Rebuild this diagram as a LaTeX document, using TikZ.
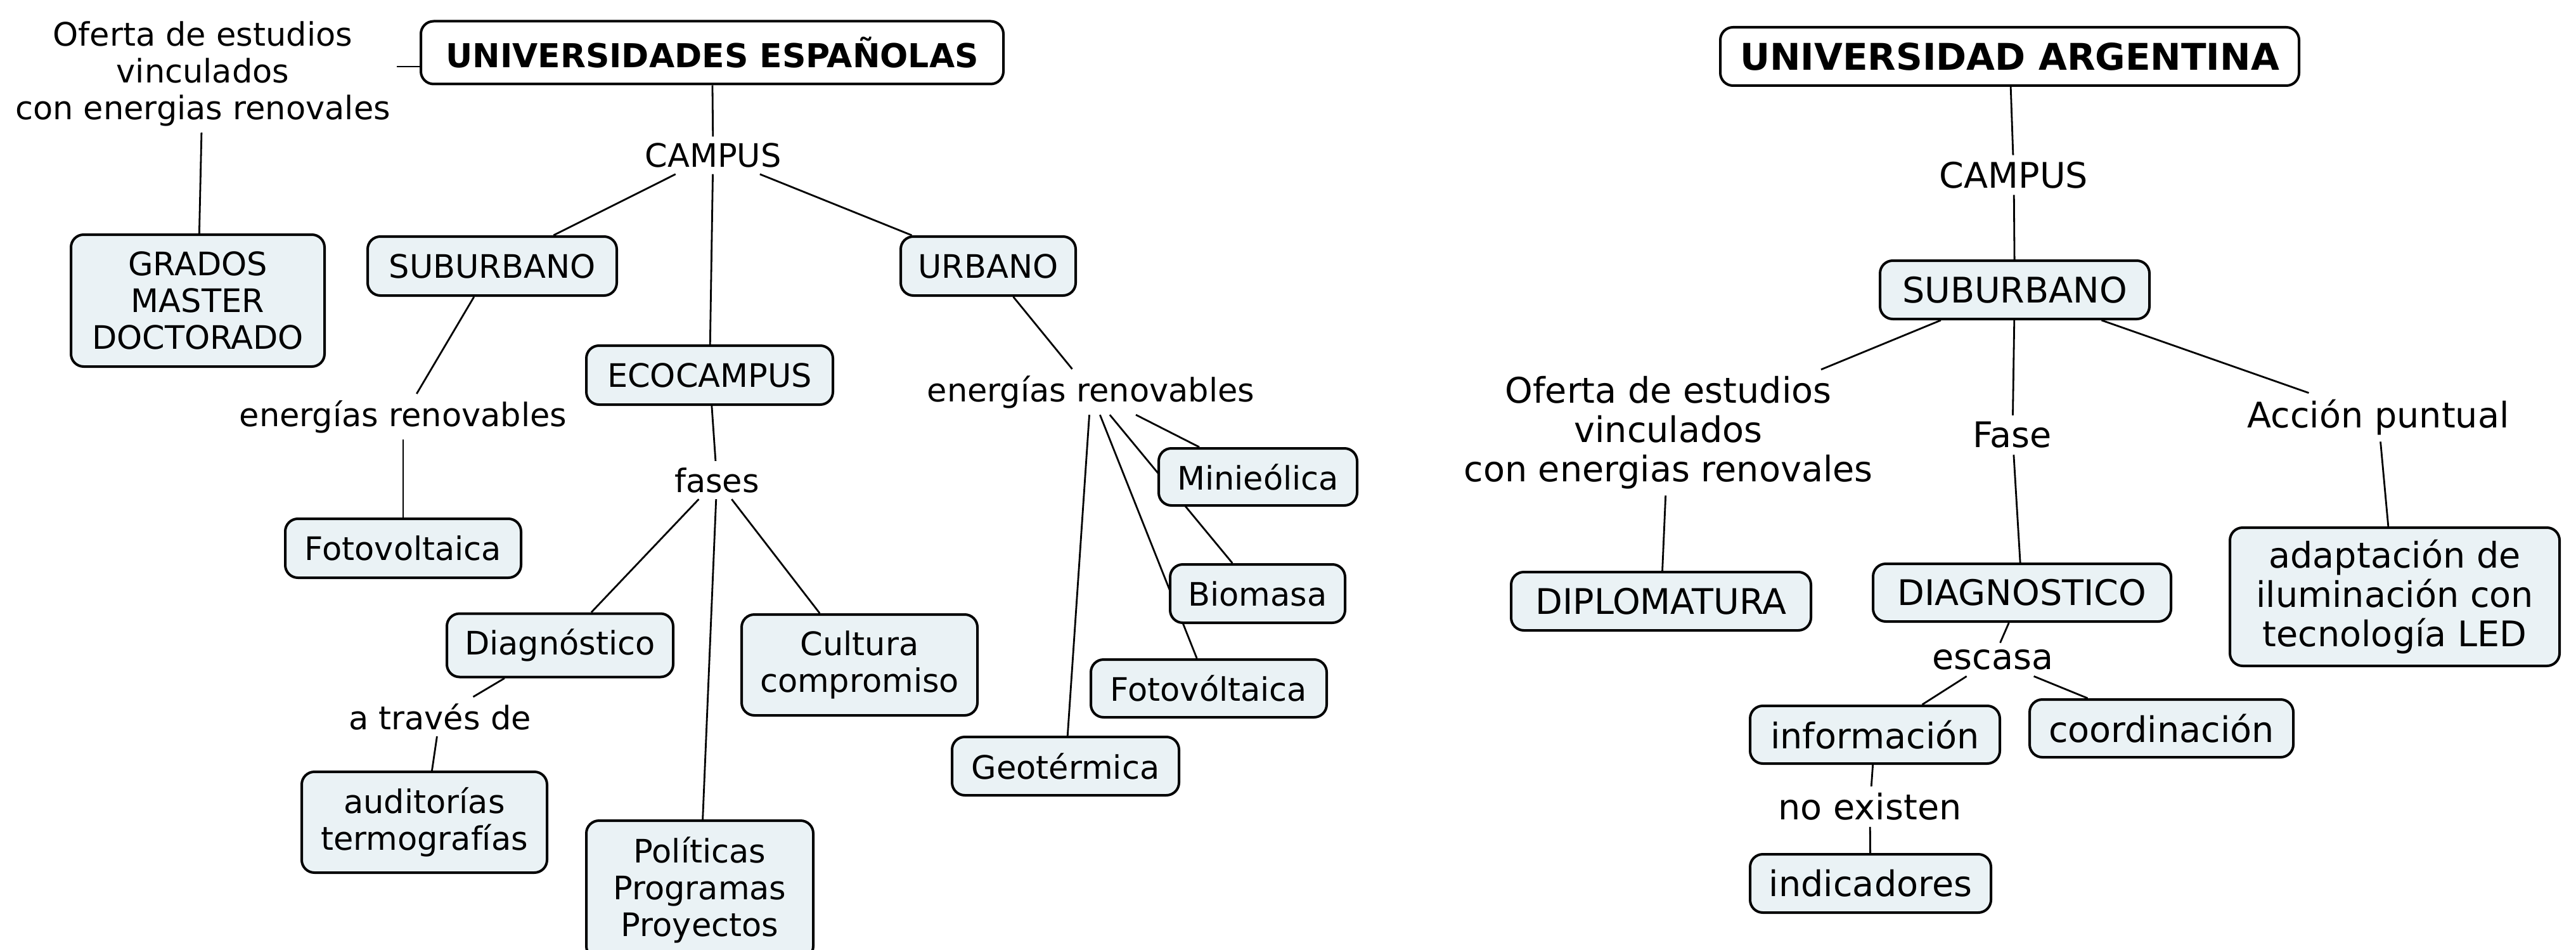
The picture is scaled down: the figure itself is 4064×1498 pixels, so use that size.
\documentclass[tikz,border=0pt]{standalone}
\usepackage{fontspec}
\setmainfont{DejaVu Sans}
\usetikzlibrary{backgrounds}
\definecolor{boxfill}{RGB}{234,242,245}
\begin{document}
\begin{tikzpicture}[x=0.5pt,y=-0.5pt,
  every node/.style={font=\fontsize{25.5}{29}\selectfont, align=center},
  sz/.style 2 args={minimum width=#1*0.5pt, minimum height=#2*0.5pt},
  box/.style={draw=black, line width=2pt, rounded corners=10pt, fill=boxfill, inner sep=0pt},
  titlebox/.style={box, fill=white, font=\fontsize{26}{30}\selectfont\bfseries},
  lbl/.style={inner sep=5pt},
  link/.style={line width=1.4pt, draw=black}]
\useasboundingbox (0,0) rectangle (4064,1498);

% ---------- left map ----------
\node[titlebox, sz={919}{99}] (UE) at (1123.5,83) {UNIVERSIDADES ESPAÑOLAS};
\node[lbl] (of1) at (320,116) {Oferta de estudios\\vinculados\\con energias renovales};
\node[box, sz={400}{208}] (GR) at (312,474) {GRADOS\\MASTER\\DOCTORADO};
\node[lbl] (C1) at (1125,245) {CAMPUS};
\node[box, sz={393}{93}] (SUB1) at (776.5,419.5) {SUBURBANO};
\node[box, sz={276}{93}] (URB1) at (1559,419.5) {URBANO};
\node[box, sz={389}{93}] (ECO) at (1119.5,591.5) {ECOCAMPUS};
\node[lbl] (er1) at (636,657) {energías renovables};
\node[box, sz={372}{93}] (F1) at (636,864.5) {Fotovoltaica};
\node[lbl] (fases) at (1131,757) {fases};
\node[box, sz={357}{100}] (Diag) at (883.5,1017.5) {Diagnóstico};
\node[lbl] (atr) at (694,1130) {a través de};
\node[box, sz={387}{159}] (aud) at (669.5,1296.5) {auditorías\\termografías};
\node[box, sz={358}{218}] (Pol) at (1104,1403) {Políticas\\Programas\\Proyectos};
\node[box, sz={372}{159}] (Cul) at (1356,1048.5) {Cultura\\compromiso};
\node[lbl] (er2) at (1721,618) {energías renovables};
\node[box, sz={313}{90}] (Mini) at (1984.5,752) {Minieólica};
\node[box, sz={276}{92}] (Bio) at (1984,936) {Biomasa};
\node[box, sz={372}{91}] (FV) at (1907,1085.5) {Fotovóltaica};
\node[box, sz={358}{92}] (Geo) at (1681,1208) {Geotérmica};

% ---------- right map (slightly larger type) ----------
\begin{scope}[every node/.append style={font=\fontsize{27.8}{31}\selectfont}]
\node[titlebox, sz={913}{92}, font=\fontsize{29}{33}\selectfont\bfseries] (UA) at (3170.5,89) {UNIVERSIDAD ARGENTINA};
\node[lbl] (C2) at (3177,276) {CAMPUS};
\node[box, sz={425}{92}] (SUB2) at (3178.5,457) {SUBURBANO};
\node[lbl] (of2) at (2632,682) {Oferta de estudios\\vinculados\\con energias renovales};
\node[lbl] (Fase) at (3175,686) {Fase};
\node[lbl] (Acc) at (3752,658) {Acción puntual};
\node[box, sz={473}{92}] (DIPL) at (2620.5,948) {DIPLOMATURA};
\node[box, sz={470}{91}] (DIAG) at (3190,934.5) {DIAGNOSTICO};
\node[box, sz={520}{218}] (adapt) at (3778,941) {adaptación de\\iluminación con\\tecnología LED};
\node[lbl] (esc) at (3144,1040) {escasa};
\node[box, sz={394}{91}] (info) at (2958,1158.5) {información};
\node[box, sz={416}{91}] (coord) at (3410,1148.5) {coordinación};
\node[lbl] (noex) at (2950,1272) {no existen};
\node[box, sz={380}{92}] (ind) at (2951,1393) {indicadores};
\end{scope}

\begin{scope}[on background layer]
  \fill[white] (0,0) rectangle (4064,1498);
  \draw[link] ([yshift=-11pt]UE.west) -- ([yshift=-11pt]UE.west -| of1.east);
  \draw[link] (of1) -- (GR);
  \draw[link] (UE) -- (C1);
  \draw[link] (C1) -- (SUB1);
  \draw[link] (C1) -- (ECO);
  \draw[link] (C1) -- (URB1);
  \draw[link] (SUB1) -- (er1);
  \draw[link] (er1) -- (F1);
  \draw[link] (ECO) -- (fases);
  \draw[link] (fases) -- (Diag);
  \draw[link] (fases) -- (Pol);
  \draw[link] (fases) -- (Cul);
  \draw[link] (Diag) -- (atr);
  \draw[link] (atr) -- (aud);
  \draw[link] (URB1) -- (er2);
  \draw[link] (er2) -- (Mini);
  \draw[link] (er2) -- (Bio);
  \draw[link] (er2) -- (FV);
  \draw[link] (er2) -- (Geo);
  \draw[link] (UA) -- (C2);
  \draw[link] (C2) -- (SUB2);
  \draw[link] (SUB2) -- (of2);
  \draw[link] (SUB2) -- (Fase);
  \draw[link] (SUB2) -- (Acc);
  \draw[link] (of2) -- (DIPL);
  \draw[link] (Fase) -- (DIAG);
  \draw[link] (Acc) -- (adapt);
  \draw[link] (DIAG) -- (esc);
  \draw[link] (esc) -- (info);
  \draw[link] (esc) -- (coord);
  \draw[link] (info) -- (noex);
  \draw[link] (noex) -- (ind);
\end{scope}
\end{tikzpicture}
\end{document}
